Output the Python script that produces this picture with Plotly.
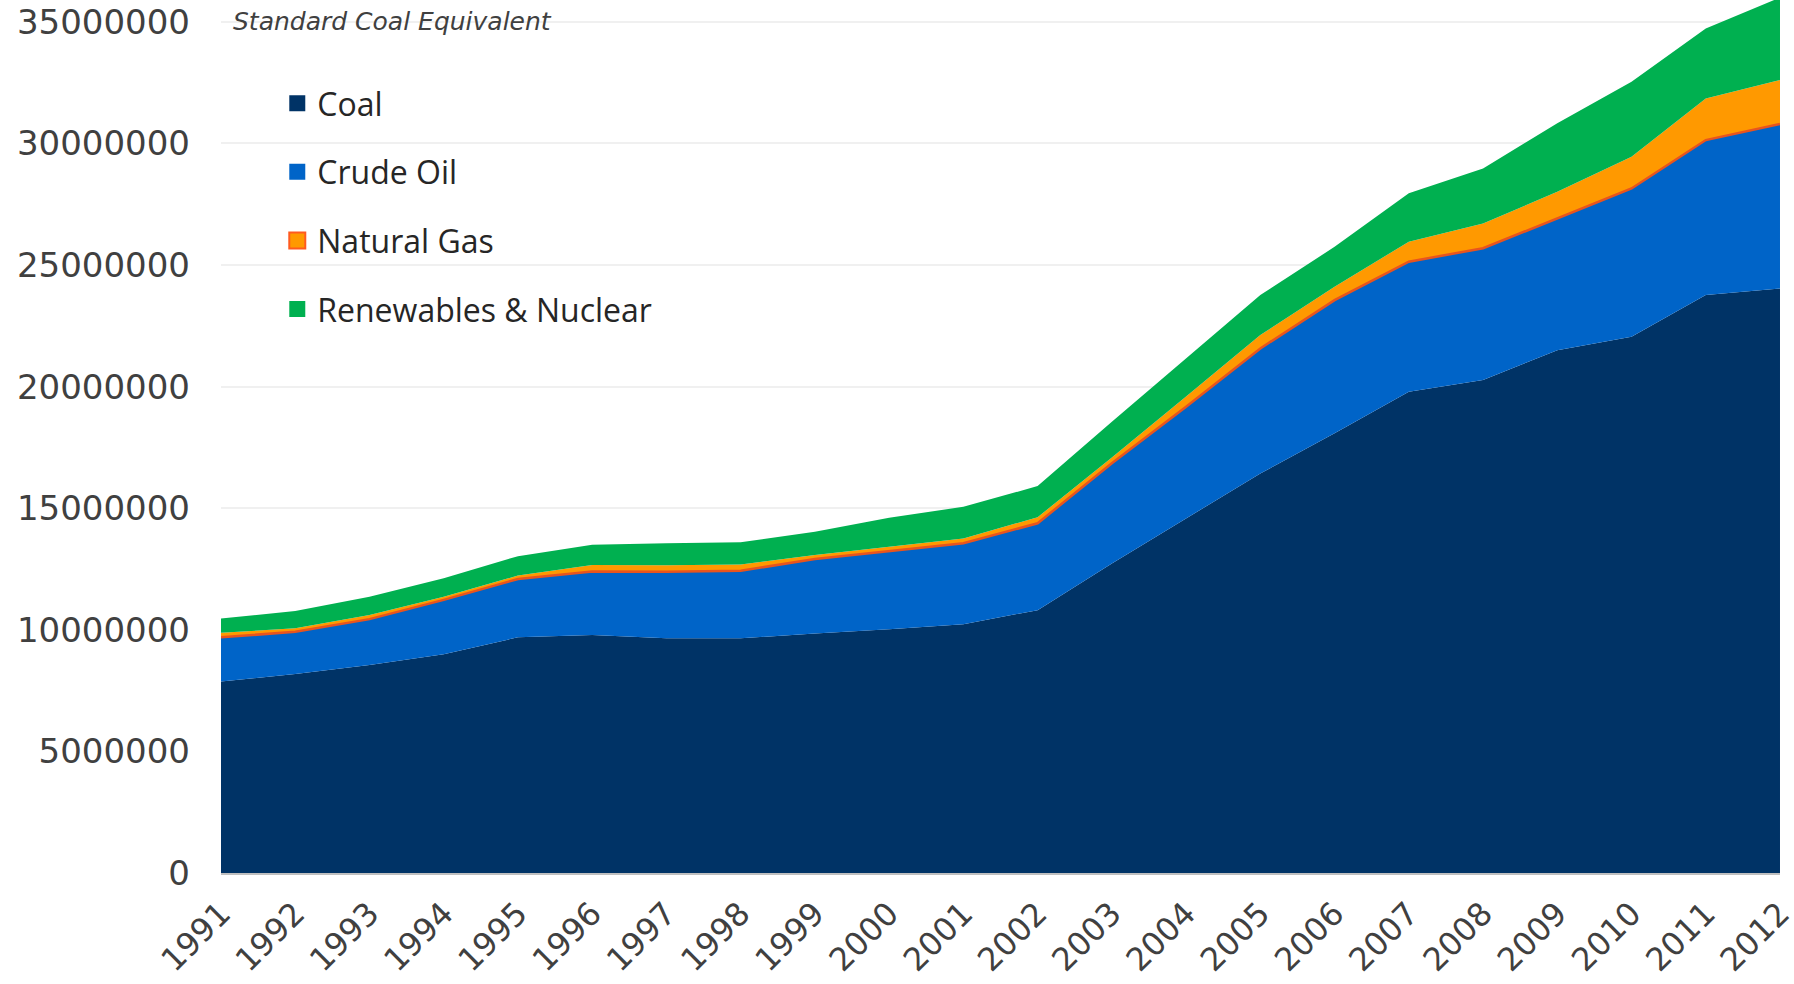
import plotly.graph_objects as go

years = list(range(1991, 2013))

# values (standard coal equivalent)
coal = [7870000, 8180000, 8550000, 9000000, 9690000, 9790000, 9650000, 9650000,
        9850000, 10020000, 10230000, 10810000, 12730000, 14580000, 16430000, 18080000,
        19790000, 20270000, 21500000, 22050000, 23770000, 24040000]
crude_oil = [1820000, 1740000, 1890000, 2230000, 2400000, 2610000, 2740000, 2780000,
             3060000, 3230000, 3330000, 3570000, 4120000, 4590000, 5140000, 5480000,
             5350000, 5420000, 5420000, 6100000, 6370000, 6760000]
natural_gas = [190000, 140000, 170000, 130000, 140000, 270000, 270000, 260000,
               170000, 170000, 200000, 250000, 240000, 420000, 550000, 550000,
               820000, 1020000, 1090000, 1300000, 1710000, 1810000]
renewables_nuclear = [590000, 710000, 750000, 760000, 800000, 830000, 900000, 910000,
                      950000, 1190000, 1300000, 1280000, 1470000, 1570000, 1650000, 1640000,
                      1990000, 2260000, 2820000, 3090000, 2880000, 3390000]

series = [
    ("Coal", coal, "#003366", None),
    ("Crude Oil", crude_oil, "#0064C8", "#E8541E"),
    ("Natural Gas", natural_gas, "#FF9900", None),
    ("Renewables & Nuclear", renewables_nuclear, "#00B050", None),
]

fig = go.Figure()

# stacked areas
for name, vals, color, edge in series:
    fig.add_trace(go.Scatter(
        x=years, y=vals,
        stackgroup="one",
        mode="lines",
        line=dict(width=2.5 if edge else 0, color=edge or color),
        fillcolor=color,
        name=name,
        showlegend=False,
    ))

# legend entries with square markers
legend_border = {"Natural Gas": "#FF5A1F"}
for idx, (name, vals, color, edge) in enumerate(series):
    fig.add_trace(go.Scatter(
        x=[None], y=[None],
        mode="markers",
        marker=dict(symbol="square", size=16, color=color,
                    line=dict(width=2 if name in legend_border else 0,
                              color=legend_border.get(name, color))),
        name=name,
        legendgroup=f"g{idx}",
        showlegend=True,
    ))

# white box behind the unit label
fig.add_shape(type="rect", xref="paper", yref="y",
              x0=0, x1=0.2527, y0=33.8e6, y1=35.9e6,
              fillcolor="white", line=dict(width=0), layer="between")

fig.add_annotation(
    text="<i>Standard Coal Equivalent</i>",
    xref="paper", yref="y", x=0.0, y=35.0e6,
    xanchor="left", yanchor="middle", showarrow=False,
    xshift=10, yshift=0,
    font=dict(family="DejaVu Sans", size=25, color="#404040"),
)

fig.update_layout(
    width=1794, height=984,
    margin=dict(l=221, r=14, t=0, b=111, autoexpand=False),
    paper_bgcolor="white", plot_bgcolor="white",
    showlegend=True,
    legend=dict(
        x=0.0361, y=0.913, xanchor="left", yanchor="top",
        font=dict(family="Open Sans", size=32, color="#262626"),
        bgcolor="rgba(0,0,0,0)",
        tracegroupgap=24,
        itemsizing="trace",
    ),
    xaxis=dict(
        range=[1990.9999, 2012.0001],
        tickmode="array", tickvals=years, ticktext=[str(y) for y in years],
        tickangle=-45,
        tickfont=dict(family="DejaVu Sans", size=32, color="#404040"),
        showgrid=False, zeroline=False,
        showline=True, linecolor="#BFBFBF", linewidth=2,
        ticks="", automargin=False,
        ticklabeloverflow="allow", ticklabelstandoff=7,
    ),
    yaxis=dict(
        range=[0, 35.9e6],
        tickmode="linear", tick0=0, dtick=5e6,
        tickformat="d",
        tickfont=dict(family="DejaVu Sans", size=34, color="#404040"),
        showgrid=True, gridcolor="#F0F0F0", gridwidth=2,
        zeroline=False, showline=False,
        ticks="", ticklabelstandoff=30, automargin=False,
        ticklabeloverflow="allow",
    ),
)

# drop the browser's default 8px page margin so the figure sits at the corner
fig.write_html("out.html", config={"displayModeBar": False},
               post_script="document.body.style.margin='0';")
